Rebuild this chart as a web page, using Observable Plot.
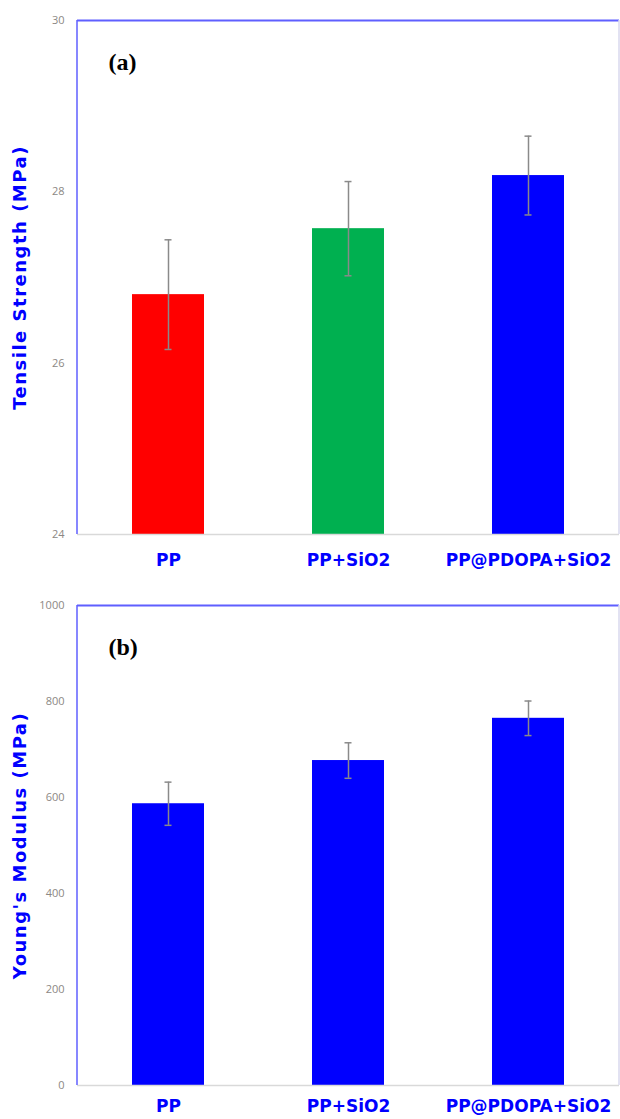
<!DOCTYPE html>
<html>
<head>
<meta charset="utf-8">
<script src="https://cdn.jsdelivr.net/npm/d3@7"></script>
<script src="https://cdn.jsdelivr.net/npm/@observablehq/plot@0.6"></script>
<style>
  html, body { margin: 0; padding: 0; background: #fff; }
  #chart { width: 620px; }
  #chart svg { display: block; }
  g[aria-label="x-axis tick label"] text { font-weight: bold; }
  .ytitle text { letter-spacing: 1.5px; }
</style>
</head>
<body>
<div id="chart"></div>
<script>
// ---- data ----
const categories = ["PP", "PP+SiO2", "PP@PDOPA+SiO2"];
const tensileValues = [26.80, 27.57, 28.19];
const tensileErrors = [0.64, 0.55, 0.46];
const tensileTicks = [24, 26, 28, 30];
const modulusValues = [587, 677, 765];
const modulusErrors = [45, 37, 36];
const modulusTicks = [0, 200, 400, 600, 800, 1000];
const panelLabels = ["(a)", "(b)"];
const yTitles = ["Tensile Strength (MPa)", "Young's Modulus (MPa)"];

// ---- styles ----
const tensileColors = ["#ff0000", "#00b050", "#0000ff"];
const modulusColors = ["#0000ff", "#0000ff", "#0000ff"];
const BLUE = "#0000ff";

function leftBorder(index, scales, values, dimensions) {
  const l = d3.create("svg:line")
    .attr("x1", dimensions.marginLeft).attr("x2", dimensions.marginLeft)
    .attr("y1", dimensions.marginTop).attr("y2", dimensions.height - dimensions.marginBottom)
    .attr("stroke", "#5f5fff").attr("stroke-width", 1.5);
  return l.node();
}
function rightBorder(index, scales, values, dimensions) {
  const x = dimensions.width - dimensions.marginRight;
  const l = d3.create("svg:line")
    .attr("x1", x).attr("x2", x)
    .attr("y1", dimensions.marginTop).attr("y2", dimensions.height - dimensions.marginBottom)
    .attr("stroke", "#d8d8ee").attr("stroke-width", 1.5);
  return l.node();
}

function panel({values, errors, ticks, colors, label, title, height, marginTop, marginBottom, xPad}) {
  const rows = categories.map((c, i) => ({cat: c, v: values[i], e: errors[i]}));
  const lo = ticks[0], hi = ticks[ticks.length - 1];
  return Plot.plot({
    width: 620,
    height,
    marginTop,
    marginBottom,
    marginLeft: 77,
    marginRight: 1,
    style: {fontFamily: "'DejaVu Sans', sans-serif", background: "#fff"},
    x: {domain: categories, paddingInner: 0.6, paddingOuter: 0.3},
    y: {domain: [lo, hi]},
    color: {domain: categories, range: colors},
    marks: [
      Plot.barY(rows, {x: "cat", y1: () => lo, y2: "v", fill: "cat"}),
      Plot.ruleX(rows, {x: "cat", y1: d => d.v - d.e, y2: d => d.v + d.e, stroke: "#8a8a8a", strokeWidth: 1.5}),
      Plot.tickY(rows, {x: "cat", y: d => d.v + d.e, stroke: "#8a8a8a", strokeWidth: 1.5, insetLeft: 32.5, insetRight: 32.5}),
      Plot.tickY(rows, {x: "cat", y: d => d.v - d.e, stroke: "#8a8a8a", strokeWidth: 1.5, insetLeft: 32.5, insetRight: 32.5}),
      Plot.ruleY([lo], {stroke: "#d9d9d9", strokeWidth: 1.5}),
      Plot.ruleY([hi], {stroke: "#5f5fff", strokeWidth: 2}),
      leftBorder,
      rightBorder,
      Plot.axisY({ticks, tickFormat: d => String(d), tickSize: 0, tickPadding: 13, fontSize: 11, fill: "#8c8884", label: null, fontFamily: "'Open Sans', sans-serif"}),
      Plot.axisX({tickSize: 0, tickPadding: xPad, fontSize: 17, fontWeight: "bold", fill: BLUE, label: null}),
      Plot.text([title], {text: d => d, frameAnchor: "left", dx: -57, rotate: -90, textAnchor: "middle", fontSize: 18, fontWeight: "bold", fill: BLUE, className: "ytitle"}),
      Plot.text([label], {text: d => d, frameAnchor: "top-left", dx: 31, dy: 32, textAnchor: "start", fontSize: 24, fontWeight: "bold", fill: "#000", fontFamily: "'Liberation Serif', serif"})
    ]
  });
}

const chart = document.getElementById("chart");
chart.append(panel({
  values: tensileValues, errors: tensileErrors, ticks: tensileTicks, colors: tensileColors,
  label: panelLabels[0], title: yTitles[0], height: 580, marginTop: 20, marginBottom: 46, xPad: 19
}));
chart.append(panel({
  values: modulusValues, errors: modulusErrors, ticks: modulusTicks, colors: modulusColors,
  label: panelLabels[1], title: yTitles[1], height: 539, marginTop: 25, marginBottom: 34, xPad: 14
}));
</script>
</body>
</html>
